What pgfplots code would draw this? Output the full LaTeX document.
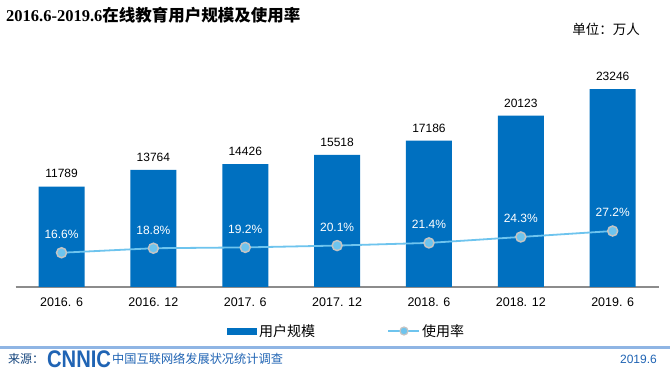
\documentclass[border=0pt]{standalone}
\usepackage{fontspec}
\usepackage{pgfplots}
\pgfplotsset{compat=1.18}
\setmainfont{Liberation Sans}
\newfontfamily\cjk{Noto Sans CJK SC}
\newfontfamily\titleserif{Liberation Serif}
\definecolor{barblue}{HTML}{0070C0}
\definecolor{lineblue}{HTML}{6EC4EE}
\definecolor{markedge}{HTML}{C4C4C4}
\definecolor{footline}{HTML}{8FB5E4}
\definecolor{foottext}{HTML}{2064B4}
\definecolor{axisgray}{HTML}{8C8C8C}
\begin{document}
\begin{tikzpicture}[x=1pt,y=1pt]
\path[use as bounding box, fill=white] (0,0) rectangle (670,376);
% title
\node[anchor=west, inner sep=0pt] at (6,361) {\fontsize{16.5}{18}\selectfont\titleserif\bfseries 2016.6-2019.6{\cjk\bfseries 在线教育用户规模及使用率}};
\node[anchor=east, inner sep=0pt] at (640,347) {\fontsize{13.5}{15}\selectfont\cjk 单位：万人};
\begin{axis}[at={(67,105)}, anchor=origin, scale only axis,
  width=643pt, height=229.5pt,
  xmin=-0.5, xmax=6.5, ymin=0, ymax=27000,
  axis x line=bottom, axis y line=none,
  x axis line style={-, draw=axisgray, line width=2.2pt},
  xtick={0,1,2,3,4,5,6},
  xticklabels={2016. 6,2016. 12,2017. 6,2017. 12,2018. 6,2018. 12,2019. 6},
  major tick length=0pt,
  xticklabel style={font=\fontsize{12.5}{14}\selectfont, yshift=-7pt},
  clip=false,
  ]
% users (10k)
\addplot[ybar, bar width=46pt, fill=barblue, draw=none,
  point meta=explicit symbolic, nodes near coords,
  every node near coord/.append style={font=\fontsize{12}{14}\selectfont, text=black, yshift=5pt}]
  coordinates {
  (0,11789) [11789]
  (1,13764) [13764]
  (2,14426) [14426]
  (3,15518) [15518]
  (4,17186) [17186]
  (5,20123) [20123]
  (6,23246) [23246]
};
% usage rate (%), drawn on a 0--112 % scale over the same height
\addplot[lineblue, line width=1.8pt, mark=*, mark size=5pt,
  mark options={fill=lineblue, draw=markedge, line width=1.5pt},
  point meta=explicit symbolic, nodes near coords,
  every node near coord/.append style={font=\fontsize{12}{14}\selectfont, text=white, anchor=south, yshift=10pt}]
  table[x=x, y expr=\thisrow{p}*241.0714, meta=lab] {
x p lab
0 16.6 16.6\%
1 18.8 18.8\%
2 19.2 19.2\%
3 20.1 20.1\%
4 21.4 21.4\%
5 24.3 24.3\%
6 27.2 27.2\%
};
\end{axis}
% legend
\fill[barblue] (227,41.5) rectangle (257,48.5);
\node[anchor=west, inner sep=0pt] at (259,45) {\fontsize{14}{16}\selectfont\cjk 用户规模};
\draw[lineblue, line width=1.8pt] (388,45) -- (419,45);
\fill[lineblue, draw=markedge, line width=1.2pt] (404,45) circle (4);
\node[anchor=west, inner sep=0pt] at (422,45) {\fontsize{14}{16}\selectfont\cjk 使用率};
% footer
\fill[footline] (0,27.5) rectangle (670,30.5);
\node[anchor=west, inner sep=0pt, text=foottext!70!black] at (8,17) {\fontsize{12}{14}\selectfont\cjk 来源：};
\node[anchor=west, inner sep=0pt, text=foottext, xscale=0.84] at (47,17) {\fontsize{24}{26}\selectfont\bfseries CNNIC};
\node[anchor=west, inner sep=0pt, text=foottext] at (112,17) {\fontsize{12.2}{14}\selectfont\cjk 中国互联网络发展状况统计调查};
\node[anchor=east, inner sep=0pt, text=foottext] at (657,17) {\fontsize{12}{14}\selectfont 2019.6};
\end{tikzpicture}
\end{document}
